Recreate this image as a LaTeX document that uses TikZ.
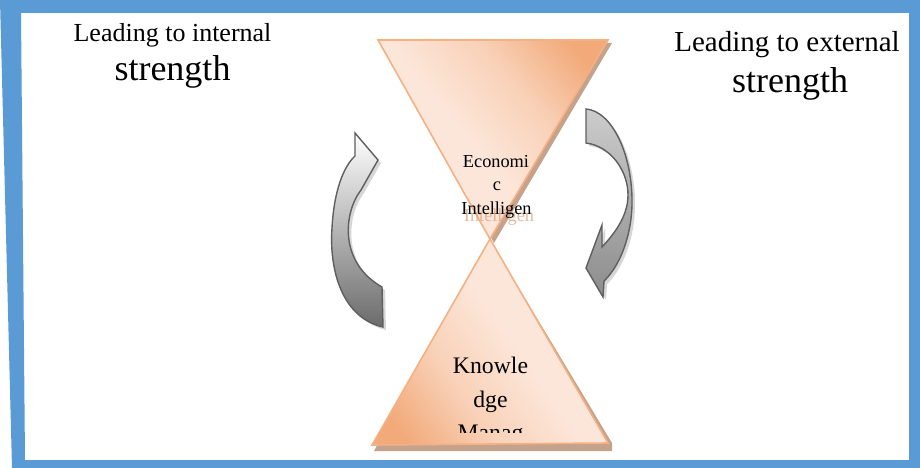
\documentclass[tikz,border=0pt]{standalone}
\usepackage{fontspec}
\setmainfont{Liberation Serif}
\definecolor{frameblue}{HTML}{5B9BD5}
\definecolor{peachlight}{HTML}{FCE6D9}
\definecolor{peachdark}{HTML}{F2AA7A}
\definecolor{peachline}{HTML}{F4B183}
\definecolor{trishadow}{HTML}{C4A28C}
\definecolor{ghost}{HTML}{D9A483}
\definecolor{arrline}{HTML}{5F5F5F}
\pgfdeclarehorizontalshading{peachshade}{100bp}{color(0bp)=(peachlight); color(46bp)=(peachlight); color(62bp)=(peachlight!65!peachdark); color(78bp)=(peachdark); color(100bp)=(peachdark)}
\tikzset{
  trishape/.style={draw=peachline, line width=1.6pt, line join=miter},
  arrshape/.style={draw=arrline, line width=1.4pt, line join=miter},
  arrshadow/.style={fill=black!35, opacity=0.45},
  larrowpath/.style={insert path={(355,133) -- (378,160) -- (361,190) .. controls (344,212) and (338,262) .. (382,287) -- (383,327) .. controls (343,318) and (329,272) .. (332,228) .. controls (334,190) and (344,166) .. (355,156) -- cycle}},
  rarrowpath/.style={insert path={(586,109) .. controls (612,111) and (633,155) .. (632,205) .. controls (631,240) and (618,268) .. (604,281) -- (603,297) -- (586,268) -- (602,225) -- (602,247) .. controls (616,232) and (628,215) .. (628,195) .. controls (628,170) and (610,146) .. (586,143) -- cycle}},
  hdr/.style={anchor=base, inner sep=0pt},
}
\begin{document}
\begin{tikzpicture}[x=1pt,y=-1pt]
\useasboundingbox (0,0) rectangle (920,468);
\fill[white] (0,0) rectangle (920,468);
% frame
\fill[frameblue, even odd rule] (0,0) -- (920,0) -- (920,468) -- (12,468) -- cycle
  (21,13) -- (909,13) -- (909,460) -- (25,460) -- cycle;

% header texts
\node[hdr, font=\fontsize{26}{30}\selectfont] (intl1) at (172.5,42) {Leading to internal};
\node[hdr, font=\fontsize{36}{40}\selectfont] (intl2) at (172.5,81) {strength};
\node[hdr, font=\fontsize{29}{33}\selectfont] (extl1) at (787,52) {Leading to external};
\node[hdr, font=\fontsize{36}{40}\selectfont] (extl2) at (790,93) {strength};

% triangle shadows
\fill[trishadow] (382,43) -- (612,43) -- (494,243) -- cycle;
\fill[trishadow] (374,451) -- (612,451) -- (612,443) -- (490,240) -- cycle;

% top triangle
\shade[trishape, shading=peachshade, shading angle=40]
  (378,40) -- (608,40) -- (490,239) -- cycle;
% bottom triangle
\shade[trishape, shading=peachshade, shading angle=215]
  (490,239) -- (608,443) -- (372,445) -- cycle;

% texts in triangles
\begin{scope}
  \clip (440,207) rectangle (560,226);
  \node[hdr, font=\fontsize{18.3}{22}\selectfont, text=ghost, opacity=0.75] (ghosttxt) at (499,221) {Intelligen};
\end{scope}
\node[hdr, font=\fontsize{18.3}{22}\selectfont] (eco1) at (496,167) {Economi};
\node[hdr, font=\fontsize{18.3}{22}\selectfont] (eco2) at (497,190.5) {c};
\node[hdr, font=\fontsize{18.3}{22}\selectfont] (eco3) at (496.5,214) {Intelligen};

\node[hdr, font=\fontsize{23.7}{28}\selectfont] (km1) at (490.5,373) {Knowle};
\node[hdr, font=\fontsize{23.7}{28}\selectfont] (km2) at (490.5,407) {dge};
\begin{scope}
  \clip (400,300) rectangle (580,432);
  \node[hdr, font=\fontsize{23.7}{28}\selectfont] (km3) at (490.5,440) {Manag};
\end{scope}

% left curved arrow
\fill[arrshadow, xshift=3pt, yshift=-3pt, larrowpath];
\shade[arrshape, top color=white, middle color=black!15, bottom color=black!58, larrowpath];
% right curved arrow
\fill[arrshadow, xshift=3pt, yshift=-3pt, rarrowpath];
\shade[arrshape, top color=black!20, middle color=black!24, bottom color=black!45, rarrowpath];
\end{tikzpicture}
\end{document}
